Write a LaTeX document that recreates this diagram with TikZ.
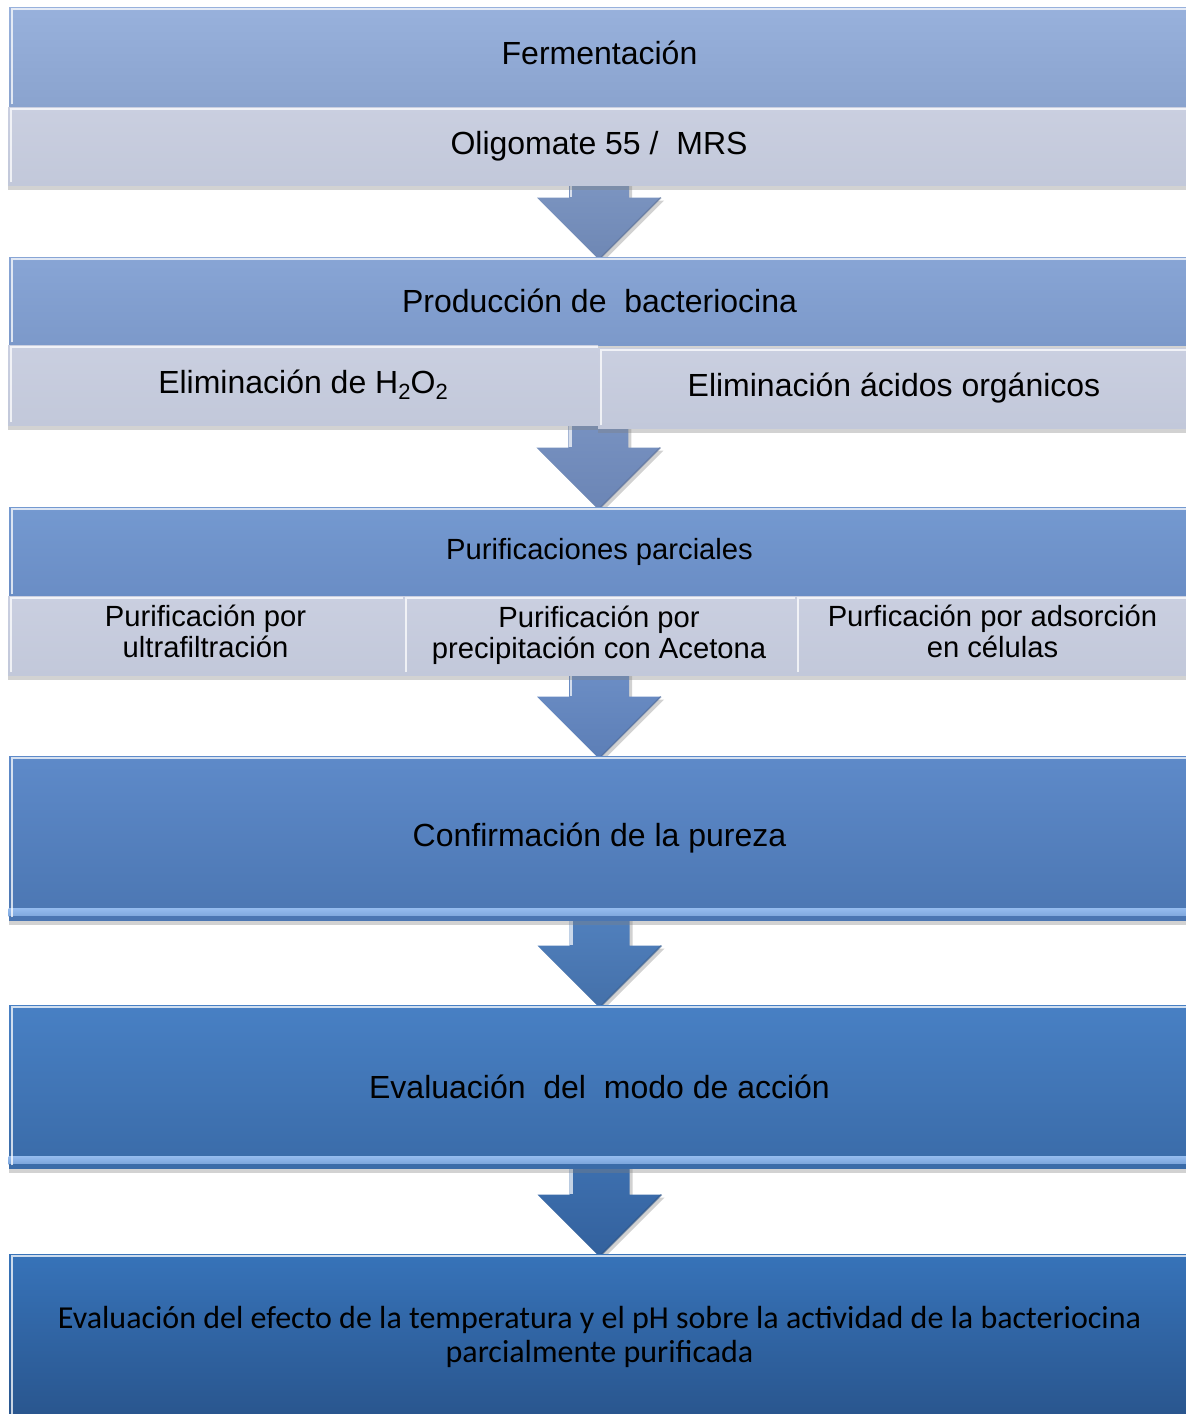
\documentclass[tikz,border=0pt]{standalone}
\usepackage{fontspec}
\setmainfont{Liberation Sans}
\newfontfamily\carl{Carlito}
\usetikzlibrary{shadows,calc}
\pgfdeclarelayer{back}
\pgfdeclarelayer{bg}
\pgfsetlayers{back,bg,main}
\definecolor{fermT}{HTML}{98B1DC}
\definecolor{fermB}{HTML}{8AA3CE}
\definecolor{prodT}{HTML}{88A5D5}
\definecolor{prodB}{HTML}{7C99CA}
\definecolor{purT}{HTML}{7499D0}
\definecolor{purB}{HTML}{6A8DC5}
\definecolor{confT}{HTML}{5E8AC9}
\definecolor{confB}{HTML}{4B76B2}
\definecolor{modoT}{HTML}{4880C4}
\definecolor{modoB}{HTML}{3A6BA8}
\definecolor{tempT}{HTML}{3773B9}
\definecolor{tempB}{HTML}{29558D}
\definecolor{subT}{HTML}{CACFE0}
\definecolor{subB}{HTML}{C2C8DA}
\definecolor{bandL}{HTML}{94BBEE}
\definecolor{aAT}{HTML}{7F98C4}\definecolor{aAB}{HTML}{6E87B4}
\definecolor{aBT}{HTML}{7A94C3}\definecolor{aBB}{HTML}{6B85B5}
\definecolor{aCT}{HTML}{6F91C8}\definecolor{aCB}{HTML}{5C7EB6}
\definecolor{aDT}{HTML}{5383C1}\definecolor{aDB}{HTML}{4470A9}
\definecolor{aET}{HTML}{3F72B2}\definecolor{aEB}{HTML}{33619D}
\newcommand\flowarrow[4]{%
\begin{pgfonlayer}{bg}
\fill[black,opacity=.18] let \p1=(#1), \p2=(#2.north) in
 (\x1-15pt+1.5pt,\y1+10pt-1.5pt) -- (\x1+15pt+1.5pt,\y1+10pt-1.5pt) -- (\x1+15pt+1.5pt,\y2+29.5pt-1.5pt) -- (\x1+31pt+1.5pt,\y2+29.5pt-1.5pt) -- (\x1+1.5pt,\y2-1.5pt-1.5pt) -- (\x1-31pt+1.5pt,\y2+29.5pt-1.5pt) -- (\x1-15pt+1.5pt,\y2+29.5pt-1.5pt) -- cycle;
\shade[top color=#3,bottom color=#4] let \p1=(#1), \p2=(#2.north) in
 (\x1-15pt,\y1+10pt) -- (\x1+15pt,\y1+10pt) -- (\x1+15pt,\y2+29.5pt) -- (\x1+31pt,\y2+29.5pt) -- (\x1,\y2-1.5pt) -- (\x1-31pt,\y2+29.5pt) -- (\x1-15pt,\y2+29.5pt) -- cycle;
\draw[white,opacity=.7,line width=1.2pt] let \p1=(#1), \p2=(#2.north) in
 (\x1-14pt,\y1+10pt) -- (\x1-14pt,\y2+30pt);
\draw[#4!80!black,opacity=.5,line width=0.8pt] let \p1=(#1), \p2=(#2.north) in
 (\x1+31pt,\y2+29.5pt) -- (\x1,\y2-1.5pt);
\end{pgfonlayer}}
\newcommand\bevel[1]{\draw[white,opacity=.75,line width=1.2pt]
 ([shift={(1.8pt,1.5pt)}]#1.south west) -- ([shift={(1.8pt,-1.2pt)}]#1.north west) -- ([shift={(0pt,-1.2pt)}]#1.north east);}
\newcommand\lowband[2]{%
\shade[top color=bandL,bottom color=bandL!70!#2] ([yshift=2pt]#1.south west) rectangle ([yshift=6pt]#1.south east);
\fill[#2] (#1.south west) rectangle ([yshift=2pt]#1.south east);}
\newcommand\sub[1]{\raisebox{-3.2pt}{\fontsize{11}{11}\selectfont #1}}
\begin{document}
\begin{tikzpicture}[x=0.5pt,y=-0.5pt,
  mainbox/.style={inner sep=0pt,align=center,text=black,
    drop shadow={shadow xshift=0pt,shadow yshift=-2.5pt,opacity=.35}},
  subbox/.style={inner sep=0pt,align=center,text=black,top color=subT,bottom color=subB,
    drop shadow={shadow xshift=0pt,shadow yshift=-2.5pt,opacity=.35}},
  big/.style={font=\fontsize{16}{19}\selectfont},
  mid/.style={font=\fontsize{14.6}{15.5}\selectfont}]
\useasboundingbox (0,0) rectangle (1186,1414);
\begin{pgfonlayer}{back}
\fill[white] (0,0) rectangle (1186,1414);
\end{pgfonlayer}
% row 1
\node[mainbox,big,top color=fermT,bottom color=fermB,minimum width=590.5pt,minimum height=50pt] (ferm) at (599.5,57) {\raisebox{4.5pt}{Fermentación}};
\bevel{ferm}
\node[subbox,big,minimum width=591pt,minimum height=39pt] (oligo) at (599,146) {Oligomate 55 /\ \ MRS};
\bevel{oligo}
% row 2
\node[mainbox,big,top color=prodT,bottom color=prodB,minimum width=590.5pt,minimum height=44pt] (prod) at (599.5,301) {Producción de\ \ bacteriocina};
\bevel{prod}
\node[subbox,big,minimum width=295pt,minimum height=40pt] (h2o2) at (303,385) {Eliminación de H\sub{2}O\sub{2}};
\bevel{h2o2}
\node[subbox,big,minimum width=296pt,minimum height=40pt] (acid) at (894,388) {Eliminación ácidos orgánicos};
\bevel{acid}
% row 3
\node[mainbox,mid,top color=purT,bottom color=purB,minimum width=590.5pt,minimum height=45pt] (purif) at (599.5,552) {Purificaciones parciales};
\bevel{purif}
\node[subbox,mid,minimum width=197.5pt,minimum height=39.5pt] (ultra) at (205.5,635.5) {\raisebox{1.5pt}{\begin{tabular}{@{}c@{}}Purificación por\\ultrafiltración\end{tabular}}};
\bevel{ultra}
\node[subbox,mid,minimum width=196pt,minimum height=39.5pt] (acet) at (599,635.5) {Purificación por\\precipitación con Acetona};
\bevel{acet}
\node[subbox,mid,minimum width=197.5pt,minimum height=39.5pt] (cel) at (992.5,635.5) {\raisebox{1.5pt}{\begin{tabular}{@{}c@{}}Purficación por adsorción\\en células\end{tabular}}};
\bevel{cel}
% row 4
\node[mainbox,big,top color=confT,bottom color=confB,minimum width=590.5pt,minimum height=82pt] (conf) at (599.5,838) {Confirmación de la pureza};
\lowband{conf}{confB}
\bevel{conf}
% row 5
\node[mainbox,big,top color=modoT,bottom color=modoB,minimum width=590.5pt,minimum height=81.5pt] (modo) at (599.5,1086.5) {Evaluación\ \ del\ \ modo de acción};
\lowband{modo}{modoB}
\bevel{modo}
% row 6
\node[mainbox,font=\carl\fontsize{16}{17}\selectfont,top color=tempT,bottom color=tempB,minimum width=590.5pt,minimum height=83pt] (temp) at (599.5,1337) {Evaluación del efecto de la temperatura y el pH sobre la actividad de la bacteriocina\\parcialmente purificada};
\bevel{temp}
% arrows
\flowarrow{oligo.south}{prod}{aAT}{aAB}
\flowarrow{h2o2.south east}{purif}{aBT}{aBB}
\flowarrow{acet.south}{conf}{aCT}{aCB}
\flowarrow{conf.south}{modo}{aDT}{aDB}
\flowarrow{modo.south}{temp}{aET}{aEB}
\end{tikzpicture}
\end{document}
